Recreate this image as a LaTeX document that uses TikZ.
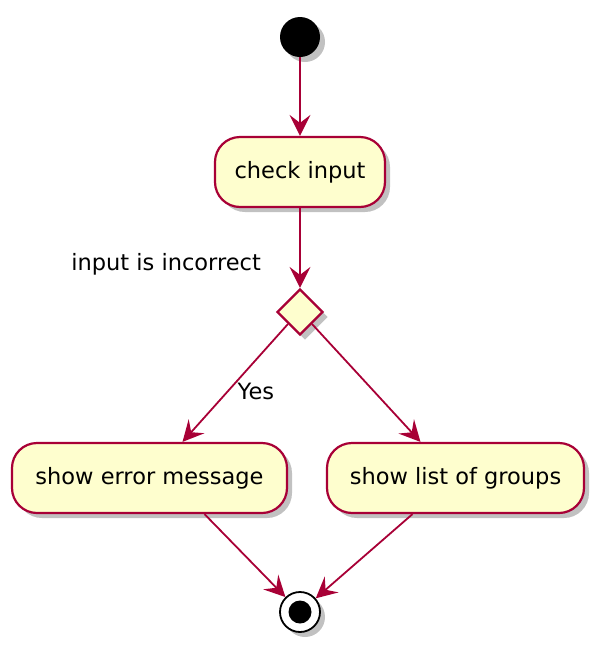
\documentclass[tikz,border=0pt]{standalone}
\usepackage{fontspec}
\setmainfont{DejaVu Sans}
\usetikzlibrary{arrows.meta,shapes.geometric,shadows}
\definecolor{pborder}{HTML}{A80036}
\definecolor{pfill}{HTML}{FEFECE}
\tikzset{
  psh/.style={drop shadow={shadow xshift=5pt,shadow yshift=-5pt,opacity=0.35,fill=black!70}},
  actbox/.style={draw=pborder,fill=pfill,line width=2.2pt,rounded corners=25pt,minimum height=70pt,inner sep=0pt,psh,font=\fontsize{22.5}{26}\selectfont},
  decis/.style={diamond,draw=pborder,fill=pfill,line width=2.2pt,minimum width=46pt,minimum height=46pt,inner sep=0pt,aspect=1,psh},
  flow/.style={draw=pborder,line width=1.8pt,-{Stealth[length=21pt,width=21pt,inset=8pt]}},
  lbl/.style={font=\fontsize{22.5}{26}\selectfont,inner sep=0pt}
}
\begin{document}
\begin{tikzpicture}[x=1pt,y=-1pt]
\useasboundingbox (0,0) rectangle (603,654);
\node[circle,fill=black,minimum size=40pt,inner sep=0pt,psh] (start) at (300,37) {};
\node[actbox,minimum width=170pt] (chk) at (300,172) {check input};
\node[decis] (dec) at (300,312) {};
\node[lbl,anchor=east] (cond) at (261,264) {input is incorrect};
\node[actbox,minimum width=275pt] (err) at (149.5,478) {show error message};
\node[actbox,minimum width=257pt] (lst) at (455.5,478) {show list of groups};
\node[circle,draw=black,fill=white,line width=1.8pt,minimum size=40pt,inner sep=0pt,psh] (stop) at (300,612) {};
\fill[black] (stop.center) circle (11.5pt);
\draw[flow] (start) -- (chk);
\draw[flow] (chk) -- (dec);
\draw[flow] (dec.south west) -- node[lbl,pos=0.57,right=9pt] (yes) {Yes} ([xshift=33pt]err.north);
\draw[flow] (dec.south east) -- ([xshift=-35pt]lst.north);
\draw[flow] ([xshift=55pt]err.south) -- (stop);
\draw[flow] ([xshift=-43pt]lst.south) -- (stop);
\end{tikzpicture}
\end{document}
